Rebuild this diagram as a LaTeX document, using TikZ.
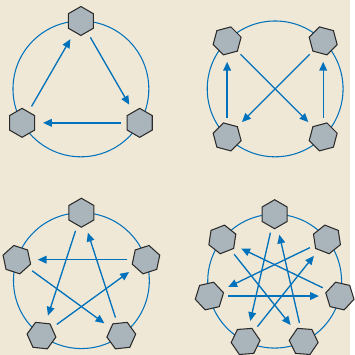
\documentclass[tikz,border=0pt]{standalone}
\usepackage{xcolor}
\usepackage{tikz}
\usetikzlibrary{arrows.meta,shapes.geometric}
\definecolor{parchment}{HTML}{F0E8D6}
\definecolor{ringblue}{HTML}{0072BC}
\definecolor{slate}{HTML}{AAB4BB}
\definecolor{bk90}{HTML}{2B2B2B}
\tikzset{
  peerhex/.style={
    regular polygon, regular polygon sides=6,
    draw=bk90, fill=slate, line width=0.6pt,
    minimum size=0.58cm, inner sep=0pt,
    shape border rotate=#1
  },
  peerhex/.default=0,
  ring/.style={draw=ringblue, line width=0.6pt},
  linkarrow/.style={
    -{Triangle[length=5pt,width=4.4pt]}, draw=ringblue, fill=ringblue,
    line width=0.75pt, shorten <=0.38cm, shorten >=0.42cm
  },
}

\begin{document}
\begin{tikzpicture}
\fill[parchment] (0,0) rectangle (7,7.1);
% three peers
\begin{scope}[shift={(1.62,5.32)}]
  \draw[ring] (0,0) circle (1.36);
  \foreach \k in {0,1,2} {
    \pgfmathsetmacro\a{90+120*\k}
    \node[peerhex=\a] (t\k) at (\a:1.36) {};
  }
  \draw[linkarrow] (t0.center) -- (t2.center);
  \draw[linkarrow] (t2.center) -- (t1.center);
  \draw[linkarrow] (t1.center) -- (t0.center);
\end{scope}
% four peers
\begin{scope}[shift={(5.51,5.32)}]
  \draw[ring] (0,0) circle (1.36);
  \foreach \k in {0,1,2,3} {
    \pgfmathsetmacro\a{45+90*\k}
    \node[peerhex=\a] (s\k) at (\a:1.36) {};
  }
  \draw[linkarrow] (s2.center) -- (s1.center);
  \draw[linkarrow] (s3.center) -- (s0.center);
  \draw[linkarrow] (s1.center) -- (s3.center);
  \draw[linkarrow] (s0.center) -- (s2.center);
\end{scope}
% five peers
\begin{scope}[shift={(1.63,1.48)}]
  \draw[ring] (0,0) circle (1.36);
  \foreach \k in {0,...,4} {
    \pgfmathsetmacro\a{90+72*\k}
    \node[peerhex=\a] (p\k) at (\a:1.36) {};
  }
  \foreach \k in {0,...,4} {
    \pgfmathtruncatemacro\j{mod(\k+2,5)}
    \draw[linkarrow] (p\k.center) -- (p\j.center);
  }
\end{scope}
% seven peers
\begin{scope}[shift={(5.50,1.47)}]
  \draw[ring] (0,0) circle (1.34);
  \foreach \k in {0,...,6} {
    \pgfmathsetmacro\a{90+360/7*\k}
    \node[peerhex=\a] (h\k) at (\a:1.34) {};
  }
  \foreach \k in {0,...,6} {
    \pgfmathtruncatemacro\j{mod(\k+3,7)}
    \draw[linkarrow] (h\k.center) -- (h\j.center);
  }
\end{scope}
\end{tikzpicture}
\end{document}
